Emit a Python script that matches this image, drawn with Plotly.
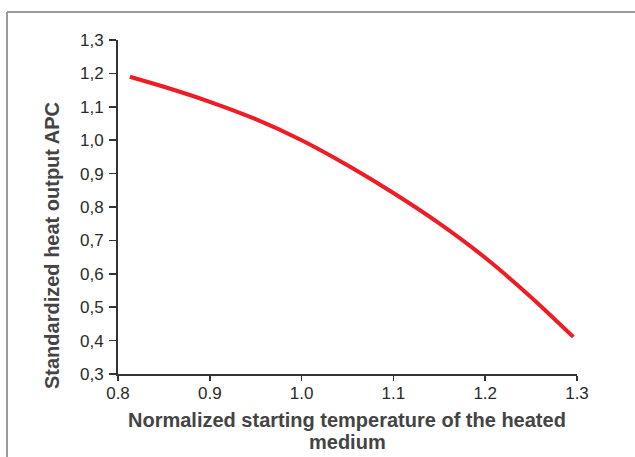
import plotly.graph_objects as go

temp = [0.813, 0.85, 0.9, 0.95, 1.0, 1.05, 1.1, 1.15, 1.2, 1.25, 1.296]
heat_output = [1.190, 1.160, 1.115, 1.063, 1.000, 0.925, 0.842, 0.751, 0.648, 0.530, 0.411]

x_ticks = [0.8, 0.9, 1.0, 1.1, 1.2, 1.3]
x_labels = ["0.8", "0.9", "1.0", "1.1", "1.2", "1.3"]
y_ticks = [0.3, 0.4, 0.5, 0.6, 0.7, 0.8, 0.9, 1.0, 1.1, 1.2, 1.3]
y_labels = ["0,3", "0,4", "0,5", "0,6", "0,7", "0,8", "0,9", "1,0", "1,1", "1,2", "1,3"]

W, H = 635, 457
L, R, T, B = 118, 58, 40, 83
pw, ph = W - L - R, H - T - B
FONT = "Liberation Sans, Arial, sans-serif"

def px_x(p):
    return (p - L) / pw

def px_y(p):
    return (H - B - p) / ph

fig = go.Figure()
fig.add_trace(go.Scatter(
    x=temp, y=heat_output, mode="lines",
    line=dict(color="#ee1c25", width=4, shape="spline", smoothing=0.8),
    showlegend=False, hoverinfo="skip",
))

axis_common = dict(
    showgrid=False, zeroline=False, showline=True, linecolor="#333333", linewidth=2,
    ticks="outside", tickwidth=1.5, tickcolor="#333333",
    tickfont=dict(family=FONT, size=17, color="#2a2a2a"),
)

fig.update_xaxes(range=[0.8, 1.3], tickvals=x_ticks, ticktext=x_labels, ticklen=5,
                 ticklabelstandoff=-2, **axis_common)
fig.update_yaxes(range=[0.3, 1.3], tickvals=y_ticks, ticktext=y_labels, ticklen=7,
                 ticklabelstandoff=2, **axis_common)

fig.add_annotation(
    text="<b>Standardized heat output APC</b>", textangle=-90,
    xref="paper", yref="paper", x=px_x(52), y=px_y(246),
    showarrow=False, xanchor="center", yanchor="middle",
    font=dict(family=FONT, size=20, color="#444444"),
)
fig.add_annotation(
    text="<b>Normalized starting temperature of the heated</b>",
    xref="paper", yref="paper", x=px_x(347), y=px_y(420),
    showarrow=False, xanchor="center", yanchor="middle",
    font=dict(family=FONT, size=20, color="#444444"),
)
fig.add_annotation(
    text="<b>medium</b>",
    xref="paper", yref="paper", x=px_x(347), y=px_y(442),
    showarrow=False, xanchor="center", yanchor="middle",
    font=dict(family=FONT, size=20, color="#444444"),
)

# outer gray frame (top and left visible)
fig.add_shape(type="line", xref="paper", yref="paper",
              x0=px_x(7), x1=px_x(W + 5), y0=px_y(12), y1=px_y(12),
              line=dict(color="#9a9a9a", width=2))
fig.add_shape(type="line", xref="paper", yref="paper",
              x0=px_x(7), x1=px_x(7), y0=px_y(12), y1=px_y(H + 5),
              line=dict(color="#9a9a9a", width=2))

fig.update_layout(
    width=W, height=H,
    margin=dict(l=L, r=R, t=T, b=B),
    paper_bgcolor="#ffffff", plot_bgcolor="#ffffff",
    font=dict(family=FONT),
)

fig.write_html(
    "out.html",
    config={"displayModeBar": False, "staticPlot": True},
    post_script="document.body.style.margin='0';document.body.style.overflow='hidden';",
)
